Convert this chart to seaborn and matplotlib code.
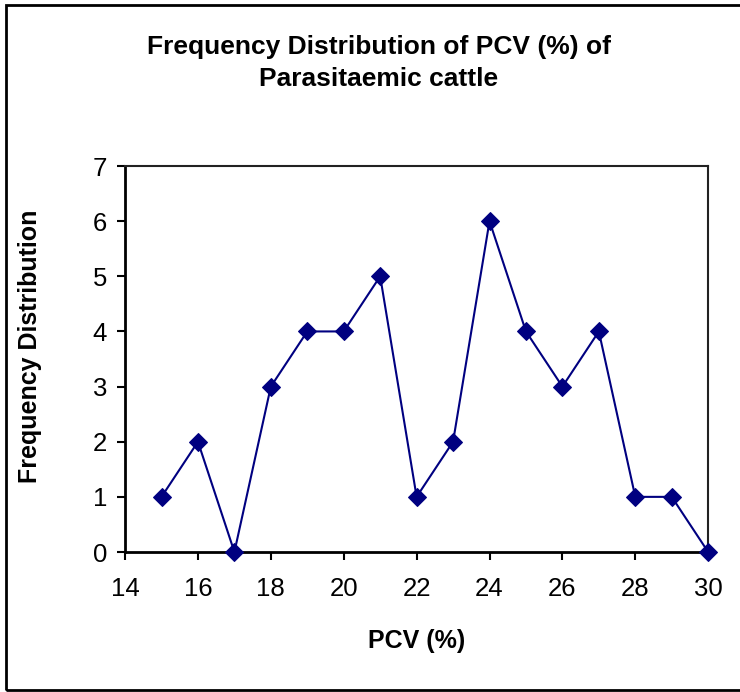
import matplotlib
matplotlib.use("Agg")
import matplotlib.pyplot as plt
import seaborn as sns
import pandas as pd
from matplotlib.patches import Rectangle

# PCV (%) values and how many parasitaemic cattle fall on each
pcv = [15, 16, 17, 18, 19, 20, 21, 22, 23, 24, 25, 26, 27, 28, 29, 30]
frequency = [1, 2, 0, 3, 4, 4, 5, 1, 2, 6, 4, 3, 4, 1, 1, 0]
x_ticks = [14, 16, 18, 20, 22, 24, 26, 28, 30]
y_ticks = [0, 1, 2, 3, 4, 5, 6, 7]

df = pd.DataFrame({"PCV": pcv, "Frequency": frequency})

sns.set_theme(style="white")
plt.rcParams["font.family"] = ["Liberation Sans", "DejaVu Sans"]
plt.rcParams["text.color"] = "black"
plt.rcParams["axes.labelcolor"] = "black"
plt.rcParams["xtick.color"] = "black"
plt.rcParams["ytick.color"] = "black"

fig = plt.figure(figsize=(7.4, 6.92), dpi=100)
ax = fig.add_axes([0.169, 0.2023, 0.788, 0.5578])

sns.lineplot(data=df, x="PCV", y="Frequency", ax=ax, color="#000080",
             linewidth=1.5, marker="D", markersize=9,
             markeredgecolor="#000080", markerfacecolor="#000080",
             clip_on=False, zorder=5)

ax.set_xlim(14, 30)
ax.set_ylim(0, 7)
ax.set_xticks(x_ticks)
ax.set_yticks(y_ticks)
ax.tick_params(axis="both", which="major", labelsize=18.5, direction="out",
               length=6, width=1.5, color="black", labelcolor="black",
               bottom=True, left=True)
ax.tick_params(axis="x", pad=12)
ax.tick_params(axis="y", pad=7)

for side in ("left", "bottom"):
    ax.spines[side].set_color("black")
    ax.spines[side].set_linewidth(2.0)
for side in ("top", "right"):
    ax.spines[side].set_color("#222222")
    ax.spines[side].set_linewidth(1.5)
    ax.spines[side].set_visible(True)

ax.set_xlabel("PCV (%)", fontsize=18, fontweight="bold", labelpad=20,
              color="black")
ax.set_ylabel("Frequency Distribution", fontsize=18, fontweight="bold",
              color="black")
ax.yaxis.set_label_coords(-0.143, 0.534)

fig.text(0.512, 0.909, "Frequency Distribution of PCV (%) of\nParasitaemic cattle",
         ha="center", va="center", fontsize=19, fontweight="bold",
         linespacing=1.4, color="black")

# Outer frame of the chart area
fig.add_artist(Rectangle((0.008, 0.003), 1.2, 0.99, transform=fig.transFigure,
                         fill=False, edgecolor="black", linewidth=2.0))

fig.savefig("out.png", dpi=100)
